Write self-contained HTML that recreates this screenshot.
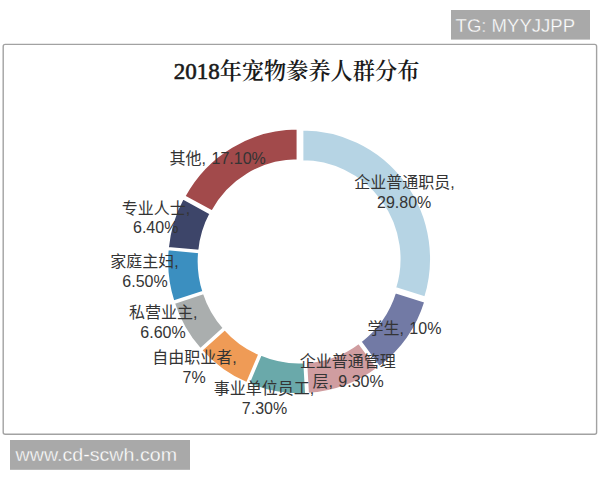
<!DOCTYPE html>
<html lang="zh-CN">
<head>
<meta charset="utf-8">
<title>2018年宠物豢养人群分布</title>
<style>
html,body{margin:0;padding:0;background:#fff;}
body{width:600px;height:480px;overflow:hidden;position:relative;font-family:"Liberation Sans","Noto Sans CJK SC",sans-serif;}
svg{position:absolute;left:0;top:0;display:block;}
.lbl text{font-family:"Liberation Sans","Noto Sans CJK SC",sans-serif;font-size:16px;fill:#343434;text-anchor:middle;word-spacing:1px;}
.title{font-family:"Liberation Serif","Noto Serif CJK SC",serif;font-weight:600;font-size:22.2px;fill:#1a1a1a;text-anchor:middle;}
.title .num{font-size:23px;font-weight:400;stroke:#1a1a1a;stroke-width:0.6px;}
.badge{font-family:"Liberation Sans","Noto Sans CJK SC",sans-serif;font-size:18px;fill:#fff;stroke:#a9a9a9;stroke-width:0.3px;}
</style>
</head>
<body>
<svg width="600" height="480" viewBox="0 0 600 480">
<rect x="0" y="0" width="600" height="480" fill="#ffffff"/>
<rect x="3.2" y="44.4" width="593.4" height="389.8" rx="2" ry="2" fill="#fff" stroke="#a2a2a2" stroke-width="1.4"/>
<rect x="451" y="10" width="139" height="29.6" fill="#a9a9a9"/>
<text class="badge" x="455.6" y="31.6" textLength="119.4" lengthAdjust="spacingAndGlyphs">TG: MYYJJPP</text>
<rect x="10" y="440" width="180" height="29.8" fill="#a9a9a9"/>
<text class="badge" x="15.6" y="461" textLength="161.4" lengthAdjust="spacingAndGlyphs">www.cd-scwh.com</text>
<text class="title" x="296.5" y="79"><tspan class="num">2018</tspan>年宠物豢养人群分布</text>
<g stroke="#ffffff" stroke-width="2.0" stroke-linejoin="miter" transform="translate(0 129.5) scale(1 1.006) translate(0 -129.5)">
<path d="M302.37 129.53A128.66 128.66 0 0 1 425.22 296.41L395.15 287.05A97.16 97.16 0 0 0 302.37 161.03Z" fill="#b6d4e4"/>
<path d="M425.26 300.67A128.66 128.66 0 0 1 379.34 365.58L360.50 340.33A97.16 97.16 0 0 0 395.19 291.31Z" fill="#727aa5"/>
<path d="M377.61 366.90A128.66 128.66 0 0 1 307.96 392.23L306.18 360.78A97.16 97.16 0 0 0 358.78 341.65Z" fill="#d09da0"/>
<path d="M306.09 392.39A128.66 128.66 0 0 1 248.46 382.33L260.79 353.35A97.16 97.16 0 0 0 304.31 360.94Z" fill="#6aa9aa"/>
<path d="M246.96 381.71A128.66 128.66 0 0 1 201.35 349.00L224.84 328.02A97.16 97.16 0 0 0 259.29 352.72Z" fill="#ef9b56"/>
<path d="M200.31 347.85A128.66 128.66 0 0 1 173.92 301.92L203.88 292.19A97.16 97.16 0 0 0 223.81 326.87Z" fill="#aaaeae"/>
<path d="M173.46 300.51A128.66 128.66 0 0 1 167.73 248.64L199.09 251.61A97.16 97.16 0 0 0 203.42 290.77Z" fill="#3b8fc0"/>
<path d="M167.87 247.18A128.66 128.66 0 0 1 182.82 198.02L210.52 213.02A97.16 97.16 0 0 0 199.23 250.15Z" fill="#3d4569"/>
<path d="M184.44 195.95A128.66 128.66 0 0 1 297.58 128.56L297.58 160.06A97.16 97.16 0 0 0 212.14 210.95Z" fill="#a24a4b"/>
</g>
<g class="lbl">
<text x="217.7" y="164">其他, 17.10%</text>
<text x="156" y="213.5">专业人士,</text>
<text x="155.7" y="233.3">6.40%</text>
<text x="144.5" y="267.3">家庭主妇,</text>
<text x="145" y="286.7">6.50%</text>
<text x="163.2" y="318">私营业主,</text>
<text x="163" y="338.3">6.60%</text>
<text x="194.4" y="363">自由职业者,</text>
<text x="194.1" y="382.8">7%</text>
<text x="264" y="393.8">事业单位员工,</text>
<text x="264.5" y="414">7.30%</text>
<text x="347.7" y="366.8">企业普通管理</text>
<text x="348.1" y="387.3">层, 9.30%</text>
<text x="404.4" y="334">学生, 10%</text>
<text x="404.5" y="188">企业普通职员,</text>
<text x="404.2" y="208.1">29.80%</text>
</g>
</svg>
</body>
</html>
